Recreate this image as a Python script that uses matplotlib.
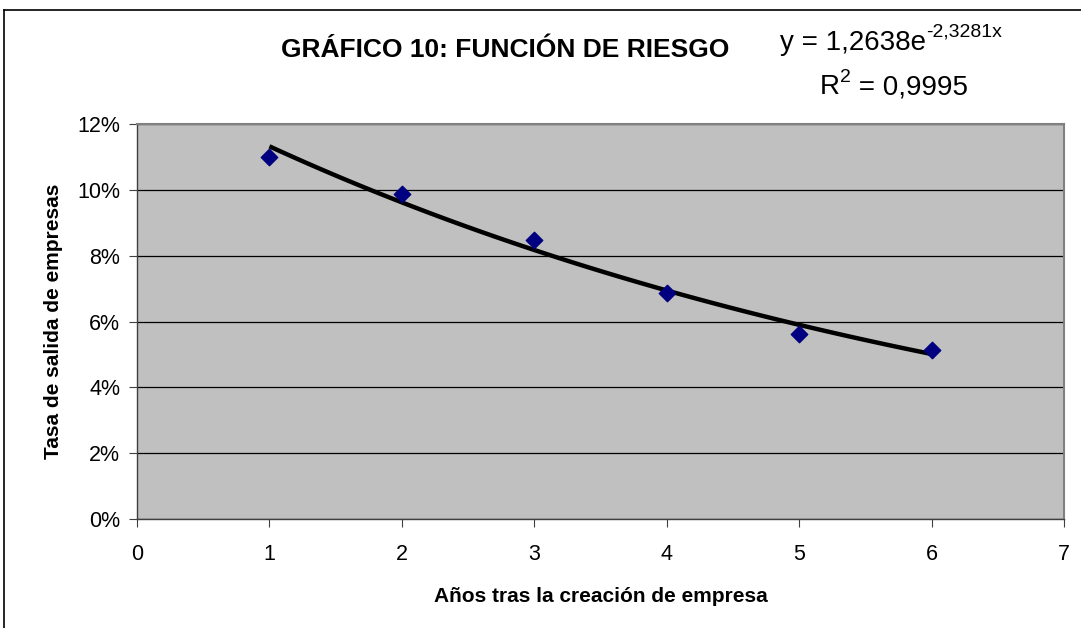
import numpy as np
import matplotlib
matplotlib.use('Agg')
from matplotlib import pyplot as plt
from matplotlib.lines import Line2D
from matplotlib.ticker import FuncFormatter

plt.rcParams['font.family'] = ['Liberation Sans', 'DejaVu Sans']

# data
years = [1, 2, 3, 4, 5, 6]
exit_rate = [0.1100, 0.0987, 0.0848, 0.0687, 0.0562, 0.0514]

# exponential trendline fitted to the points (as the spreadsheet does)
slope, icept = np.polyfit(years, np.log(exit_rate), 1)
x_fit = np.linspace(years[0], years[-1], 100)
y_fit = np.exp(icept + slope * x_fit)

W, H = 1081, 628
fig = plt.figure(figsize=(W / 100, H / 100), dpi=100)
fig.patch.set_facecolor('white')

# outer chart frame
fig.add_artist(Line2D([4/W, 4/W], [0, 1 - 10/H], color='black', linewidth=1.2, transform=fig.transFigure))
fig.add_artist(Line2D([4/W, 1], [1 - 10/H, 1 - 10/H], color='black', linewidth=1.2, transform=fig.transFigure))

ax = fig.add_axes([137/W, 109/H, 927/W, 395/H])
ax.set_facecolor('#C0C0C0')
ax.set_xlim(0, 7)
ax.set_ylim(0, 0.12)
ax.set_xticks(range(0, 8))
ax.set_yticks(np.arange(0, 0.121, 0.02))
ax.yaxis.set_major_formatter(FuncFormatter(lambda v, p: '%d%%' % round(v * 100)))
ax.grid(axis='y', color='black', linewidth=0.9)
ax.set_axisbelow(True)
for side in ['top', 'right']:
    ax.spines[side].set_color('#808080')
    ax.spines[side].set_linewidth(1.5)
for side in ['left', 'bottom']:
    ax.spines[side].set_color('#404040')
    ax.spines[side].set_linewidth(1.0)
ax.tick_params(axis='both', direction='out', length=6, width=0.8, color='#404040', labelsize=15.5)
ax.tick_params(axis='x', pad=12)
ax.tick_params(axis='y', pad=6)

ax.plot(x_fit, y_fit, color='black', linewidth=3.2, solid_capstyle='butt', zorder=3)
ax.scatter(years, exit_rate, marker='D', s=70, color='#000080', zorder=4)

ax.set_xlabel('Años tras la creación de empresa', fontsize=15, fontweight='bold', labelpad=16)
ax.set_ylabel('Tasa de salida de empresas', fontsize=15, fontweight='bold', labelpad=10)

fig.text(505/W, 1 - 50/H, 'GRÁFICO 10: FUNCIÓN DE RIESGO', fontsize=19, fontweight='bold', ha='center', va='center')

# trendline equation with superscripts attached to the base text
eq1 = fig.text(780/W, 1 - 50/H, 'y = 1,2638e', fontsize=20, ha='left', va='baseline')
ax.annotate('-2,3281x', xy=(1, 0.6), xycoords=eq1, xytext=(0, 0), textcoords='offset points',
            fontsize=14, ha='left', va='bottom', annotation_clip=False)
eq2 = fig.text(820/W, 1 - 94/H, 'R', fontsize=20, ha='left', va='baseline')
sq = ax.annotate('2', xy=(1, 0.55), xycoords=eq2, xytext=(0, 0), textcoords='offset points',
                 fontsize=14, ha='left', va='bottom', annotation_clip=False)
ax.annotate(' = 0,9995', xy=(1, 0), xycoords=(sq, eq2), xytext=(0, 0), textcoords='offset points',
            fontsize=20, ha='left', va='bottom', annotation_clip=False)

fig.savefig('out.png', dpi=100)
